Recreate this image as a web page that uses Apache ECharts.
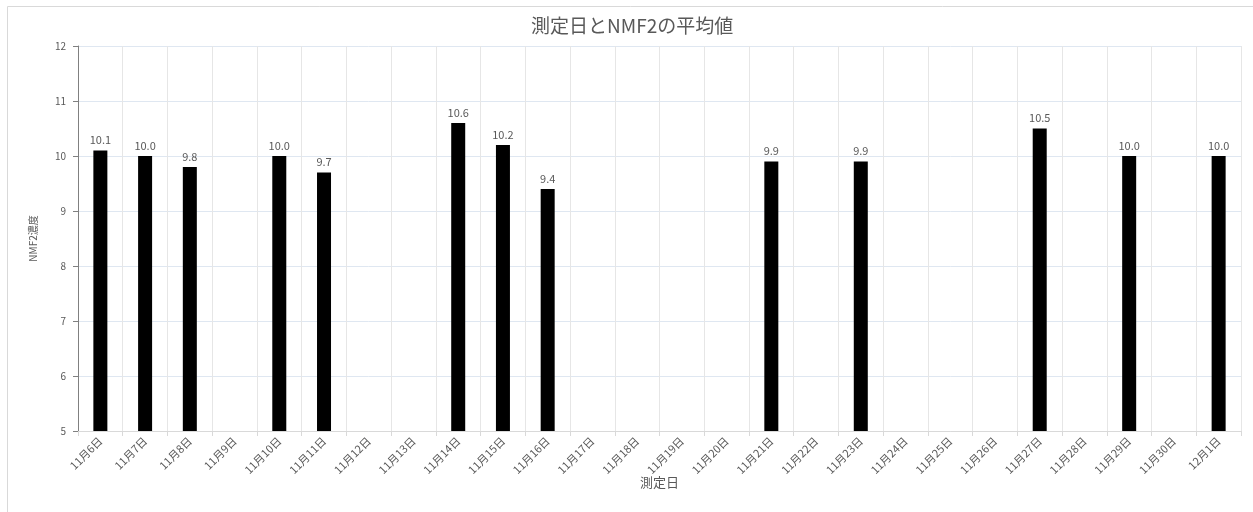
<!DOCTYPE html>
<html>
<head>
<meta charset="utf-8">
<script src="https://cdn.jsdelivr.net/npm/echarts@6/dist/echarts.min.js"></script>
<style>
  html, body { margin: 0; padding: 0; background: #fff; }
  #chart { width: 1253px; height: 512px; }
</style>
</head>
<body>
<div id="chart"></div>
<script>
// 測定日 (カテゴリ)
const days = [
  '11月6日', '11月7日', '11月8日', '11月9日', '11月10日', '11月11日', '11月12日',
  '11月13日', '11月14日', '11月15日', '11月16日', '11月17日', '11月18日', '11月19日',
  '11月20日', '11月21日', '11月22日', '11月23日', '11月24日', '11月25日', '11月26日',
  '11月27日', '11月28日', '11月29日', '11月30日', '12月1日'
];
// NMF2濃度の平均値 (測定なしは null)
const nmf2Avg = [
  10.1, 10.0, 9.8, null, 10.0, 9.7, null,
  null, 10.6, 10.2, 9.4, null, null, null,
  null, 9.9, null, 9.9, null, null, null,
  10.5, null, 10.0, null, 10.0
];
const yMin = 5;
const yMax = 12;
const yStep = 1;

const font = '"Noto Sans CJK JP", "Noto Sans", sans-serif';
const gray = '#595959';

const chart = echarts.init(document.getElementById('chart'));
chart.setOption({
  animation: false,
  textStyle: { fontFamily: font },
  title: {
    text: '測定日とNMF2の平均値',
    left: 526,
    top: 11,
    textStyle: { fontSize: 19, fontWeight: 'normal', color: gray, fontFamily: font }
  },
  graphic: [{
    type: 'rect',
    shape: { x: 7.5, y: 6.5, width: 1400, height: 700 },
    style: { fill: 'none', stroke: '#d9d9d9', lineWidth: 1 },
    silent: true
  }],
  grid: { left: 78, right: 12, top: 46, bottom: 81 },
  xAxis: {
    type: 'category',
    data: days,
    name: '測定日',
    nameLocation: 'middle',
    nameGap: 45,
    nameMoveOverlap: false,
    nameTextStyle: { color: gray, fontSize: 13 },
    axisLine: { lineStyle: { color: '#d9d9d9' } },
    axisTick: { show: true, length: 5, lineStyle: { color: '#d9d9d9' } },
    axisLabel: { rotate: 45, color: gray, fontSize: 11, margin: 8 },
    splitLine: { show: true, lineStyle: { color: '#e6e6e6' } }
  },
  yAxis: {
    type: 'value',
    min: yMin,
    max: yMax,
    interval: yStep,
    name: 'NMF2濃度',
    nameLocation: 'middle',
    nameGap: 40,
    nameTextStyle: { color: gray, fontSize: 10 },
    axisLine: { show: true, lineStyle: { color: '#808080' } },
    axisTick: { show: true, length: 5, lineStyle: { color: '#808080' } },
    axisLabel: { color: gray, fontSize: 10, margin: 12 },
    splitLine: { lineStyle: { color: '#dfe7f1' } }
  },
  series: [{
    type: 'bar',
    data: nmf2Avg,
    barWidth: 14,
    itemStyle: { color: '#000' },
    label: {
      show: true,
      position: 'top',
      distance: 5,
      color: gray,
      fontSize: 11,
      formatter: p => p.value.toFixed(1)
    }
  }]
});
</script>
</body>
</html>
